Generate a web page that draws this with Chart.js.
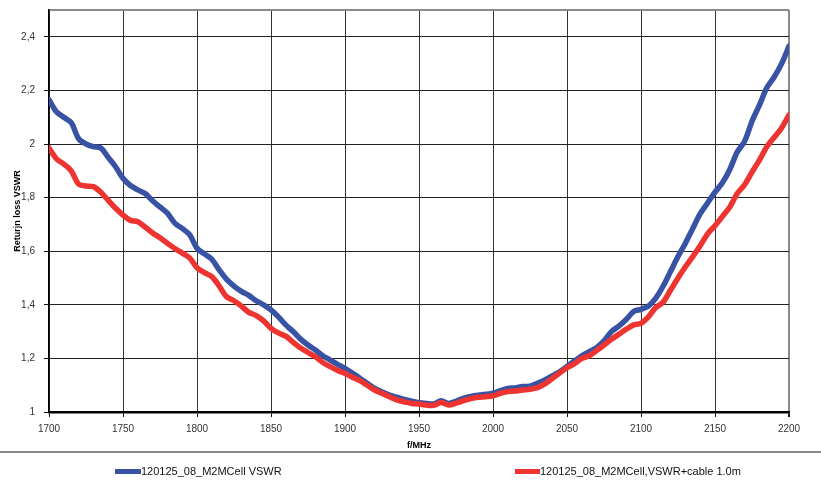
<!DOCTYPE html>
<html>
<head>
<meta charset="utf-8">
<script src="https://cdn.jsdelivr.net/npm/chart.js@4/dist/chart.umd.min.js"></script>
<style>
  html, body { margin: 0; padding: 0; background: #fff; }
  #wrap { position: relative; width: 821px; height: 482px; overflow: hidden; }
  #c { position: absolute; left: 0; top: 0; }
  .sep { position: absolute; left: 0; top: 451px; width: 821px; height: 0; border-top: 2px solid #8a8a8a; }
  .sw { position: absolute; height: 5px; }
  .lt { position: absolute; font-family: 'Liberation Sans', Arial, sans-serif; font-size: 11px; color: #111; line-height: 13px; white-space: nowrap; }
</style>
</head>
<body>
<div id="wrap">
  <canvas id="c" width="821" height="482"></canvas>
  <div class="sep"></div>
  <div class="sw" id="sw0" style="left:115px; top:469px; width:26px;"></div>
  <div class="lt" id="lt0" style="left:141px; top:465px;"></div>
  <div class="sw" id="sw1" style="left:515px; top:469px; width:25px;"></div>
  <div class="lt" id="lt1" style="left:540px; top:465px;"></div>
</div>
<script>
const freqMHz = [
  1700,1705,1710,1715,1720,1725,1730,1735,1740,1745,
  1750,1755,1760,1765,1770,1775,1780,1785,1790,1795,
  1800,1805,1810,1815,1820,1825,1830,1835,1840,1845,
  1850,1855,1860,1865,1870,1875,1880,1885,1890,1895,
  1900,1905,1910,1915,1920,1925,1930,1935,1940,1945,
  1950,1955,1960,1965,1970,1975,1980,1985,1990,1995,
  2000,2005,2010,2015,2020,2025,2030,2035,2040,2045,
  2050,2055,2060,2065,2070,2075,2080,2085,2090,2095,
  2100,2105,2110,2115,2120,2125,2130,2135,2140,2145,
  2150,2155,2160,2165,2170,2175,2180,2185,2190,2195,
  2200
];
const vswrAntenna = [
  2.165,2.12,2.10,2.08,2.02,2.00,1.99,1.985,1.95,1.915,
  1.872,1.845,1.829,1.815,1.788,1.765,1.742,1.705,1.685,1.662,
  1.611,1.59,1.57,1.53,1.495,1.47,1.45,1.435,1.415,1.40,
  1.381,1.355,1.325,1.30,1.272,1.25,1.231,1.21,1.194,1.178,
  1.163,1.145,1.126,1.107,1.088,1.075,1.063,1.055,1.047,1.04,
  1.035,1.032,1.03,1.042,1.032,1.04,1.051,1.058,1.063,1.066,
  1.07,1.08,1.088,1.09,1.095,1.096,1.107,1.12,1.135,1.15,
  1.17,1.19,1.21,1.225,1.24,1.265,1.30,1.32,1.345,1.375,
  1.383,1.395,1.425,1.47,1.525,1.58,1.63,1.685,1.74,1.78,
  1.82,1.855,1.905,1.97,2.01,2.085,2.145,2.21,2.25,2.30,
  2.365
];
const vswrWithCable = [
  1.985,1.945,1.925,1.90,1.85,1.843,1.841,1.82,1.79,1.76,
  1.735,1.715,1.71,1.69,1.668,1.65,1.63,1.61,1.593,1.575,
  1.538,1.52,1.505,1.47,1.43,1.415,1.395,1.372,1.36,1.34,
  1.312,1.295,1.283,1.26,1.239,1.222,1.206,1.185,1.169,1.155,
  1.144,1.13,1.117,1.10,1.082,1.07,1.057,1.045,1.038,1.032,
  1.03,1.026,1.025,1.035,1.026,1.033,1.042,1.05,1.055,1.057,
  1.06,1.07,1.076,1.078,1.082,1.085,1.091,1.105,1.125,1.145,
  1.165,1.18,1.20,1.21,1.229,1.25,1.271,1.29,1.309,1.325,
  1.331,1.355,1.39,1.41,1.455,1.50,1.542,1.58,1.62,1.665,
  1.695,1.73,1.765,1.815,1.848,1.895,1.94,1.99,2.025,2.06,
  2.109
];
const xTickValues = [1700,1750,1800,1850,1900,1950,2000,2050,2100,2150,2200];
const seriesNames = ['120125_08_M2MCell VSWR', '120125_08_M2MCell,VSWR+cable 1.0m'];
const seriesColors = ['#3953a4', '#ee3431'];
const xTitle = 'f/MHz';
const yTitle = 'Returjn loss VSWR';

document.getElementById('sw0').style.background = seriesColors[0];
document.getElementById('sw1').style.background = seriesColors[1];
document.getElementById('lt0').textContent = seriesNames[0];
document.getElementById('lt1').textContent = seriesNames[1];

const toPts = arr => freqMHz.map((f, i) => ({ x: f, y: arr[i] }));
const FONT = "'Liberation Sans', Arial, sans-serif";
const isTop = c => c.tick && Math.abs(c.tick.value - 2.5) < 1e-6;

new Chart(document.getElementById('c'), {
  type: 'line',
  data: {
    datasets: [
      { label: seriesNames[1], data: toPts(vswrWithCable), borderColor: seriesColors[1], backgroundColor: seriesColors[1], borderWidth: 5.5, pointRadius: 0, tension: 0.3, fill: false, borderJoinStyle: 'round', borderCapStyle: 'round' },
      { label: seriesNames[0], data: toPts(vswrAntenna), borderColor: seriesColors[0], backgroundColor: seriesColors[0], borderWidth: 5.5, pointRadius: 0, tension: 0.3, fill: false, borderJoinStyle: 'round', borderCapStyle: 'round' }
    ]
  },
  options: {
    responsive: false,
    animation: false,
    devicePixelRatio: 1,
    layout: { padding: { top: 10, right: 32, bottom: 30, left: 0 } },
    plugins: { legend: { display: false }, tooltip: { enabled: false } },
    scales: {
      x: {
        type: 'linear', min: 1700, max: 2200,
        afterFit: s => { s.height = 40; s.paddingLeft = 0; s.paddingRight = 0; },
        afterBuildTicks: s => { s.ticks = xTickValues.map(v => ({ value: v })); },
        ticks: { autoSkip: false, maxRotation: 0, padding: 6, color: '#333', font: { family: FONT, size: 10 },
          callback: v => String(v) },
        grid: {
          color: c => (c.tick && c.tick.value === 2200) ? '#8a8a8a' : '#333',
          lineWidth: c => (c.tick && c.tick.value === 2200) ? 2 : 1,
          tickLength: 5, tickColor: '#111', drawTicks: true
        },
        border: { display: true, color: '#000', width: 2.5 },
        title: { display: true, text: xTitle, color: '#000', font: { family: FONT, size: 9, weight: 'bold' }, padding: { top: 0, bottom: 1 } }
      },
      y: {
        type: 'linear', min: 1, max: 2.5,
        afterFit: s => { s.width = 49; s.paddingTop = 0; s.paddingBottom = 0; },
        ticks: {
          stepSize: 0.2, padding: 9, color: '#333', font: { family: FONT, size: 10 },
          callback: v => (Math.abs(v - 2.5) < 1e-6) ? '' : String(Number(v.toFixed(1))).replace('.', ',')
        },
        grid: {
          color: c => isTop(c) ? '#8a8a8a' : '#222',
          lineWidth: c => isTop(c) ? 2 : 1,
          tickColor: c => isTop(c) ? 'rgba(0,0,0,0)' : '#111',
          tickLength: 5, drawTicks: true
        },
        border: { display: true, color: '#000', width: 1.5 },
        title: { display: true, text: yTitle, color: '#000', font: { family: FONT, size: 9, weight: 'bold' }, padding: { top: 12, bottom: 0 } }
      }
    }
  }
});
</script>
</body>
</html>
